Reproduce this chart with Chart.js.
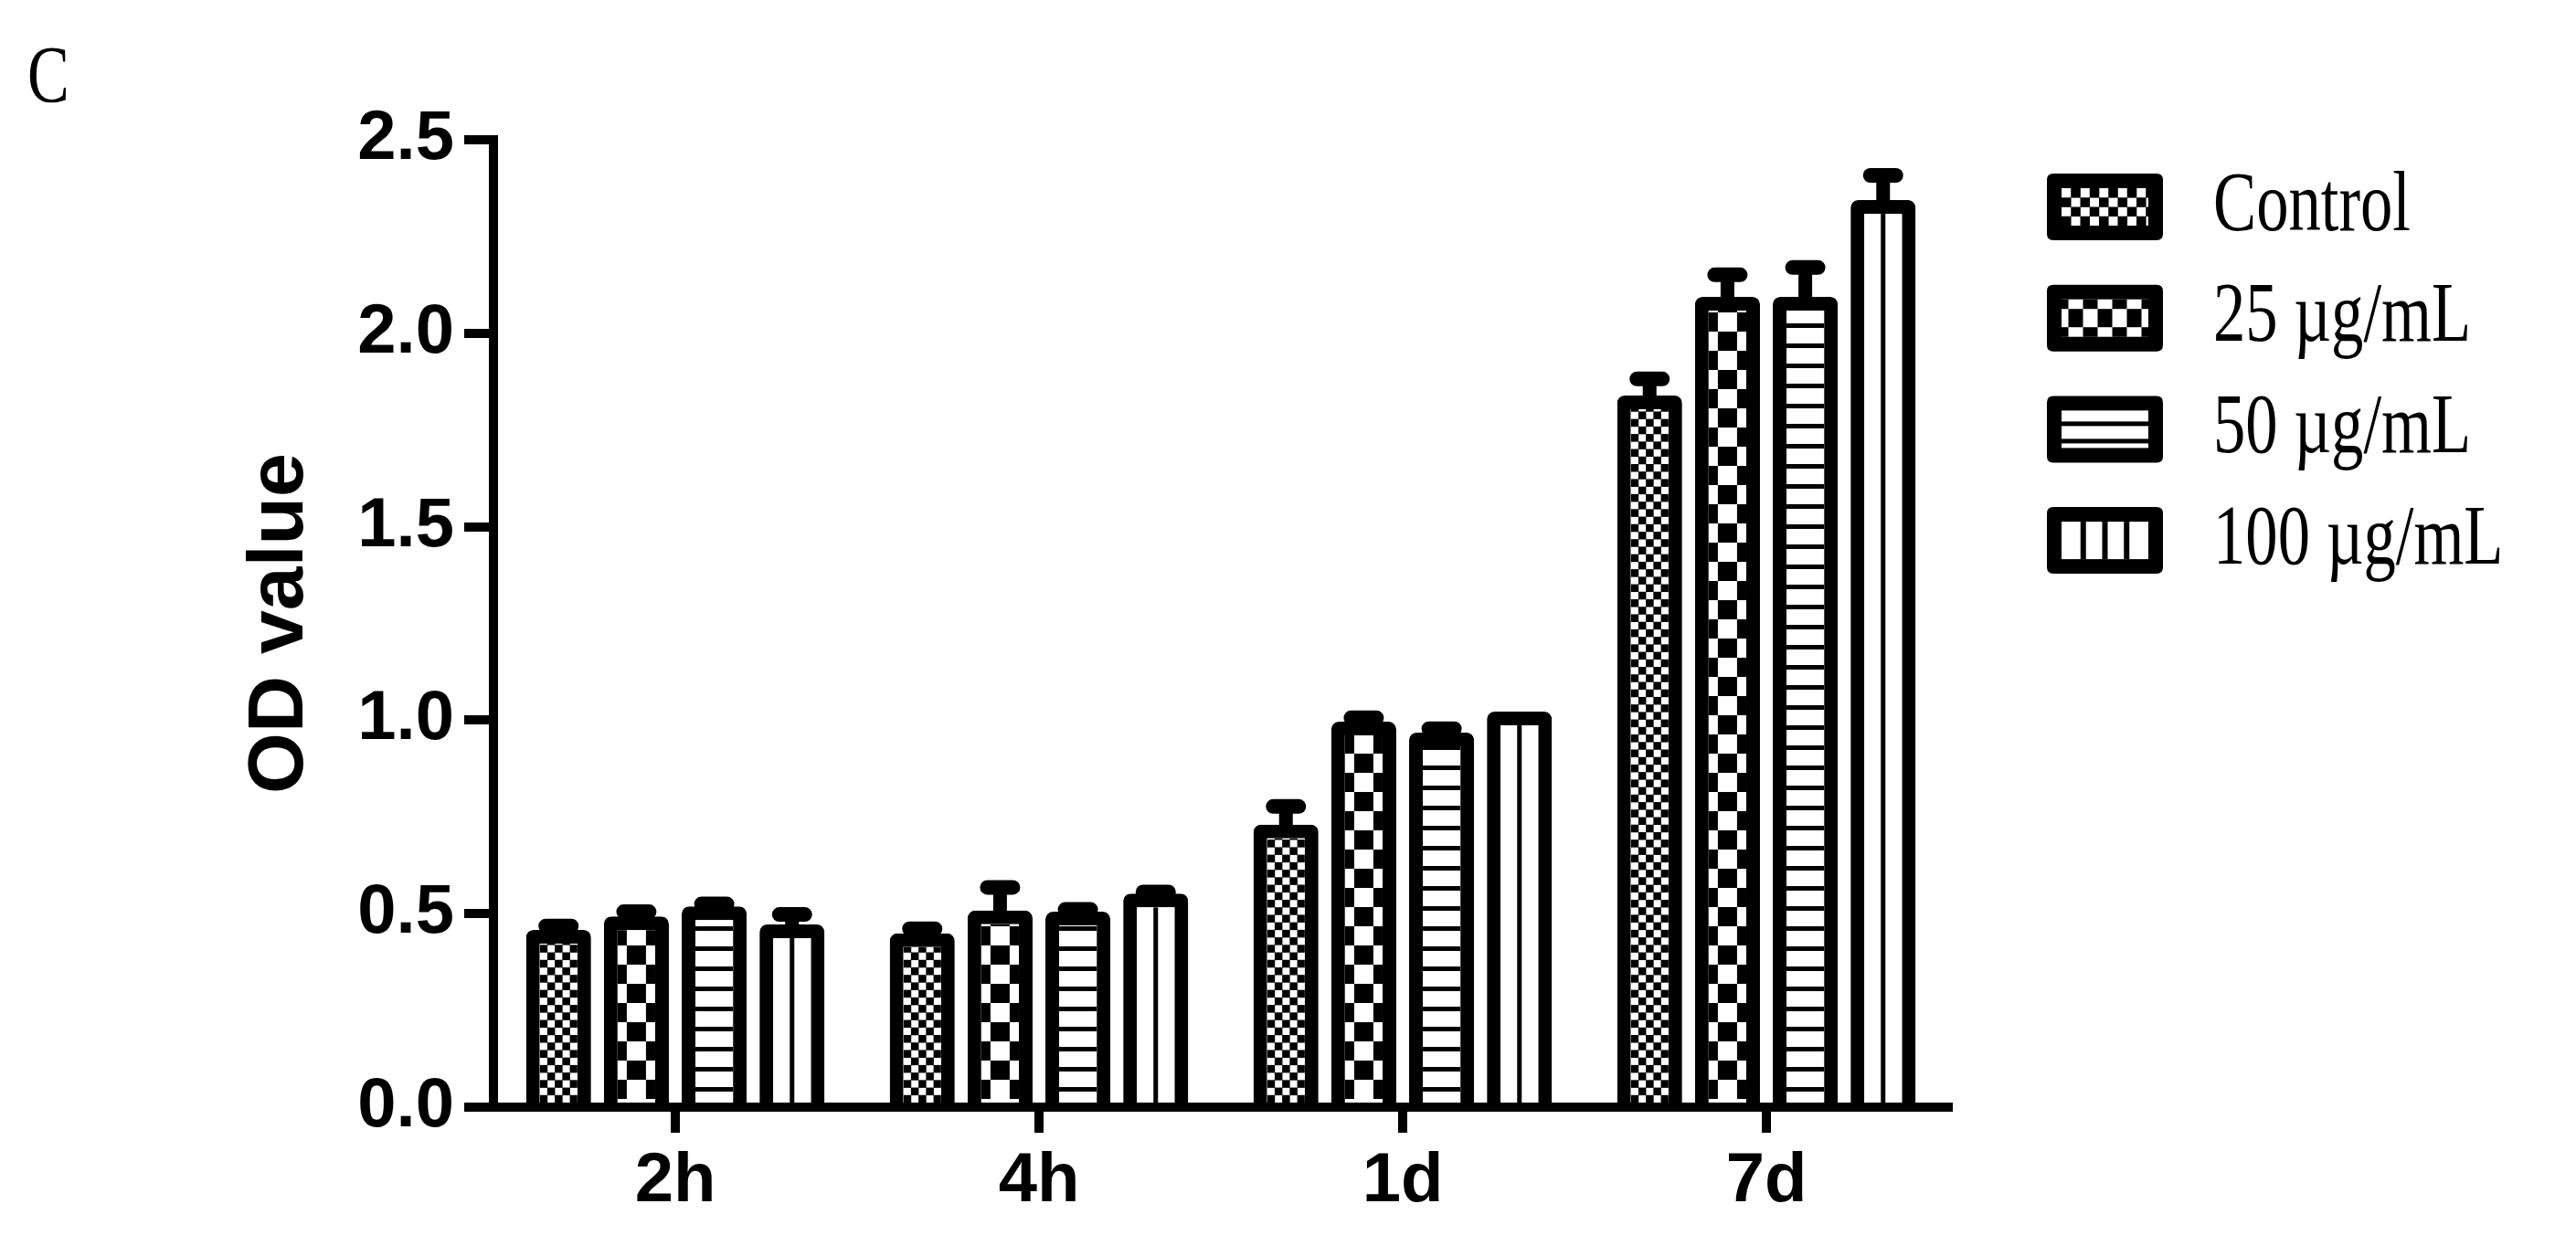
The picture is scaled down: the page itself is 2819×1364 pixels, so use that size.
<!DOCTYPE html>
<html>
<head>
<meta charset="utf-8">
<script src="https://cdn.jsdelivr.net/npm/chart.js@4.4.1/dist/chart.umd.min.js"></script>
<style>
html,body{margin:0;padding:0;background:#ffffff;}
canvas{display:block;}
</style>
</head>
<body>
<canvas id="chart" width="2819" height="1364"></canvas>
<script>
// ---------------- DATA ----------------
const categories = ['2h', '4h', '1d', '7d'];
const seriesNames = ['Control', '25 µg/mL', '50 µg/mL', '100 µg/mL'];

const controlValues = [0.458, 0.449, 0.730, 1.839];
const dose25Values  = [0.493, 0.508, 0.996, 2.094];
const dose50Values  = [0.519, 0.505, 0.968, 2.094];
const dose100Values = [0.472, 0.552, 1.022, 2.344];

const controlErrors = [0.010, 0.012, 0.047, 0.043];
const dose25Errors  = [0.012, 0.060, 0.010, 0.057];
const dose50Errors  = [0.006, 0.006, 0.010, 0.076];
const dose100Errors = [0.026, 0.004, 0.000, 0.064];

const yTickValues = [0, 0.5, 1.0, 1.5, 2.0, 2.5];
const yTickLabels = ['0.0', '0.5', '1.0', '1.5', '2.0', '2.5'];
const yAxisTitle = 'OD value';
const panelLetter = 'C';

// ---------------- STYLE ----------------
const seriesValues = [controlValues, dose25Values, dose50Values, dose100Values];
const seriesErrors = [controlErrors, dose25Errors, dose50Errors, dose100Errors];
const patternKinds = ['fineChecker', 'coarseChecker', 'hLines', 'vLine'];
const BORDER = 15;
const sansBold = {family: "'Liberation Sans', Arial, Helvetica, sans-serif", size: 76, weight: 'bold'};
const serifFamily = "'Liberation Serif', 'Times New Roman', serif";

const legendLayout = {boxLeft: 2240, boxW: 127, boxH: 73, border: 16, firstRow: 226.5, rowStep: 121.7, textX: 2422, baselineOffset: 25, fontSize: 93, squeeze: 0.76};

function drawBarPattern(ctx, kind, l, t, r, b) {
  const w = r - l, cx = (l + r) / 2;
  ctx.fillStyle = '#000';
  if (kind === 'fineChecker') {
    const s = w / 5;
    for (let j = 0; b - j * s > t - s; j++) {
      for (let i = 0; i < 5; i++) {
        if ((i + j) % 2 === 0) ctx.fillRect(l + i * s, b - (j + 1) * s, s + 0.3, s + 0.3);
      }
    }
  } else if (kind === 'coarseChecker') {
    const s = 21;
    for (let j = 0; b - j * s > t - s; j++) {
      for (let i = -2; i <= 2; i++) {
        if ((((i + j) % 2) + 2) % 2 === 1) ctx.fillRect(cx - s / 2 + i * s, b - 4 - (j + 1) * s, s, s);
      }
    }
  } else if (kind === 'hLines') {
    for (let y = b - 17; y > t - 5; y -= 22) ctx.fillRect(l, y, w, 5);
  } else if (kind === 'vLine') {
    ctx.fillRect(cx - 2.5, t, 5, b - t);
  }
}

function drawLegendPattern(ctx, kind, l, t, r, b) {
  const w = r - l, h = b - t, cx = (l + r) / 2, cy = (t + b) / 2;
  ctx.fillStyle = '#000';
  if (kind === 'fineChecker') {
    const s = h / 4;
    for (let j = 0; j < 4; j++) {
      for (let i = 0; l + i * s < r; i++) {
        if ((i + j) % 2 === 1) ctx.fillRect(l + i * s, t + j * s, s + 0.3, s + 0.3);
      }
    }
  } else if (kind === 'coarseChecker') {
    const sw = 16, sh = 20;
    for (let j = -1; j <= 1; j++) {
      for (let i = -4; i <= 4; i++) {
        if ((((i + j) % 2) + 2) % 2 === 0) ctx.fillRect(cx - sw / 2 + i * sw, cy - sh / 2 + j * sh, sw, sh);
      }
    }
  } else if (kind === 'hLines') {
    ctx.fillRect(l, t + 12, w, 5);
    ctx.fillRect(l, t + 31, w, 5);
  } else if (kind === 'vLine') {
    const p = w / 4;
    for (let k = 1; k < 4; k++) ctx.fillRect(l + k * p - 3, t, 6, h);
  }
}

function roundRectPath(ctx, x, y, w, h, r) {
  ctx.beginPath();
  ctx.moveTo(x + r, y);
  ctx.lineTo(x + w - r, y);
  ctx.quadraticCurveTo(x + w, y, x + w, y + r);
  ctx.lineTo(x + w, y + h - r);
  ctx.quadraticCurveTo(x + w, y + h, x + w - r, y + h);
  ctx.lineTo(x + r, y + h);
  ctx.quadraticCurveTo(x, y + h, x, y + h - r);
  ctx.lineTo(x, y + r);
  ctx.quadraticCurveTo(x, y, x + r, y);
  ctx.closePath();
}

const patternAndErrorPlugin = {
  id: 'patternAndError',
  afterDatasetsDraw(chart) {
    const ctx = chart.ctx;
    const ys = chart.scales.y;
    chart.data.datasets.forEach((ds, di) => {
      const meta = chart.getDatasetMeta(di);
      meta.data.forEach((el, i) => {
        const p = el.getProps(['x', 'y', 'base', 'width'], true);
        const l = p.x - p.width / 2 + BORDER, r = p.x + p.width / 2 - BORDER;
        const t = p.y + BORDER, b = p.base;
        if (b > t) {
          ctx.save();
          ctx.beginPath();
          ctx.rect(l, t, r - l, b - t);
          ctx.clip();
          drawBarPattern(ctx, patternKinds[di], l, t, r, b);
          ctx.restore();
        }
        const e = seriesErrors[di][i];
        if (e > 0) {
          const yt = ys.getPixelForValue(ds.data[i] + e);
          ctx.save();
          ctx.strokeStyle = '#000';
          ctx.lineCap = 'round';
          ctx.lineWidth = 15;
          ctx.beginPath();
          ctx.moveTo(p.x, p.y + 7);
          ctx.lineTo(p.x, yt);
          ctx.stroke();
          ctx.lineWidth = 16;
          ctx.beginPath();
          ctx.moveTo(p.x - 14, yt);
          ctx.lineTo(p.x + 14, yt);
          ctx.stroke();
          ctx.restore();
        }
      });
    });
  }
};

const legendPlugin = {
  id: 'customLegend',
  afterDraw(chart) {
    const ctx = chart.ctx;
    const L = legendLayout;
    chart.data.datasets.forEach((ds, di) => {
      const cy = L.firstRow + di * L.rowStep;
      const x = L.boxLeft, y = cy - L.boxH / 2;
      ctx.save();
      ctx.fillStyle = '#000';
      roundRectPath(ctx, x, y, L.boxW, L.boxH, 7);
      ctx.fill();
      const il = x + L.border, it = y + L.border, ir = x + L.boxW - L.border, ib = y + L.boxH - L.border;
      ctx.fillStyle = '#fff';
      ctx.fillRect(il, it, ir - il, ib - it);
      ctx.beginPath();
      ctx.rect(il, it, ir - il, ib - it);
      ctx.clip();
      drawLegendPattern(ctx, patternKinds[di], il, it, ir, ib);
      ctx.restore();

      ctx.save();
      ctx.fillStyle = '#000';
      ctx.font = L.fontSize + 'px ' + serifFamily;
      ctx.textBaseline = 'alphabetic';
      ctx.textAlign = 'left';
      ctx.translate(L.textX, cy + L.baselineOffset);
      ctx.scale(L.squeeze, 1);
      ctx.fillText(ds.label, 0, 0);
      ctx.restore();
    });
    // panel letter
    ctx.save();
    ctx.fillStyle = '#000';
    ctx.font = '88px ' + serifFamily;
    ctx.textBaseline = 'alphabetic';
    ctx.translate(30, 111);
    ctx.scale(0.78, 1);
    ctx.fillText(panelLetter, 0, 0);
    ctx.restore();
  }
};

const datasets = seriesNames.map((name, di) => ({
  label: name,
  data: seriesValues[di],
  backgroundColor: '#ffffff',
  borderColor: '#000000',
  borderWidth: BORDER,
  borderSkipped: 'start',
  borderRadius: {topLeft: 8, topRight: 8, bottomLeft: 0, bottomRight: 0},
  categoryPercentage: 0.856,
  barPercentage: 0.835
}));

new Chart(document.getElementById('chart'), {
  type: 'bar',
  data: {labels: categories, datasets: datasets},
  plugins: [patternAndErrorPlugin, legendPlugin],
  options: {
    responsive: false,
    animation: false,
    devicePixelRatio: 1,
    layout: {padding: {left: 256, right: 687, top: 153, bottom: 0}},
    plugins: {legend: {display: false}, tooltip: {enabled: false}, title: {display: false}},
    scales: {
      x: {
        type: 'category',
        offset: true,
        z: 1,
        grid: {offset: false, drawOnChartArea: false, drawTicks: true, tickLength: 28, lineWidth: 10, color: '#000', tickWidth: 10, tickColor: '#000'},
        border: {display: true, width: 10, color: '#000'},
        ticks: {color: '#000', font: sansBold, padding: 8, maxRotation: 0, autoSkip: false},
        afterFit: (s) => { s.height = 152; }
      },
      y: {
        min: 0,
        max: 2.5,
        afterBuildTicks: (s) => { s.ticks = yTickValues.map(v => ({value: v})); },
        grid: {drawOnChartArea: false, drawTicks: true, tickLength: 32, lineWidth: 10, color: '#000', tickWidth: 10, tickColor: '#000'},
        border: {display: true, width: 10, color: '#000'},
        ticks: {color: '#000', font: sansBold, padding: 11, callback: (v, i) => yTickLabels[i]},
        title: {display: true, text: yAxisTitle, color: '#000', padding: 0,
                font: {family: "'Liberation Sans', Arial, Helvetica, sans-serif", size: 86, weight: 'bold'}},
        afterFit: (s) => { s.width = 284; }
      }
    }
  }
});
</script>
</body>
</html>
